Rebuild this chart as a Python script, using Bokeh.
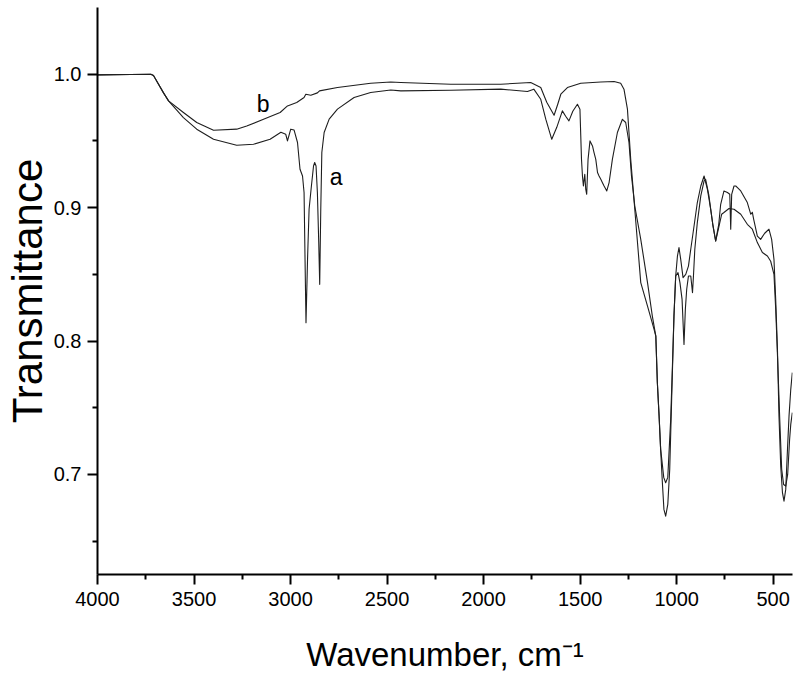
from bokeh.plotting import figure
from bokeh.models import Range1d, FixedTicker, NumeralTickFormatter, Label
from bokeh.embed import file_html
from bokeh.resources import INLINE

# ---- data (wavenumber cm-1, transmittance) ----
wn_a = [4000, 3830, 3724, 3710, 3658, 3632, 3555, 3486, 3399, 3279, 3192, 3106, 3050, 3025, 3016,
        2999, 2982, 2964, 2951, 2938, 2930, 2925, 2920, 2912, 2904, 2892, 2881, 2875, 2868, 2861,
        2854, 2849, 2843.5, 2838, 2826, 2800, 2757, 2671, 2585, 2481, 2429, 2170, 1911, 1773, 1740,
        1704, 1678, 1647, 1621, 1592, 1575, 1558, 1538, 1514, 1501, 1493, 1488, 1483, 1476, 1471,
        1466, 1459, 1449, 1436, 1428, 1419, 1410, 1402, 1393, 1385, 1376, 1362, 1350, 1333, 1307,
        1281, 1264, 1247, 1234, 1217, 1186, 1151, 1126, 1108, 1100, 1091, 1083, 1074, 1066, 1057,
        1046, 1036, 1026, 1014, 1005, 996, 988, 979, 967, 953, 939, 927, 910, 893, 875, 858,
        841, 832, 824, 813, 798, 782, 772, 755, 737, 725, 720, 715, 703, 694, 685, 668, 634,
        616, 608, 601, 582, 565, 544, 522, 508, 496, 487, 478, 470, 461, 452, 444, 435, 426,
        418, 409, 401]
tr_a = [0.9995, 0.9998, 1.0, 0.999, 0.986, 0.98, 0.9675, 0.9588, 0.9512, 0.9468, 0.9475, 0.9512, 0.9565, 0.955, 0.950,
        0.9588, 0.9582, 0.9488, 0.9288, 0.9237, 0.9113, 0.8613, 0.8138, 0.8613, 0.8988, 0.9162, 0.9312, 0.9338, 0.9312, 0.9113,
        0.8738, 0.8425, 0.8988, 0.9413, 0.9563, 0.9663, 0.9738, 0.9825, 0.9863, 0.9882, 0.9875, 0.988, 0.9888, 0.987, 0.9888,
        0.9812, 0.9663, 0.9512, 0.9602, 0.9725, 0.9685, 0.965, 0.9722, 0.9775, 0.9738, 0.9362, 0.9237, 0.9162, 0.925, 0.9138,
        0.910, 0.9362, 0.950, 0.9462, 0.9413, 0.9362, 0.9263, 0.9237, 0.9212, 0.9188, 0.9162, 0.9125, 0.9188, 0.9362, 0.9563,
        0.9662, 0.9638, 0.9488, 0.9237, 0.9012, 0.8762, 0.8438, 0.8187, 0.8037, 0.7688, 0.7437, 0.7188, 0.6938, 0.6738, 0.6687,
        0.6775, 0.7038, 0.7562, 0.8187, 0.8487, 0.8637, 0.870, 0.8612, 0.8475, 0.850, 0.8562, 0.8688, 0.8862, 0.9038, 0.9162, 0.9237,
        0.9138, 0.9062, 0.8988, 0.8875, 0.875, 0.8875, 0.9025, 0.9125, 0.9113, 0.910, 0.8838, 0.910, 0.9162, 0.9162, 0.915, 0.9125, 0.9038,
        0.895, 0.8965, 0.8912, 0.8787, 0.8762, 0.8808, 0.8838, 0.8762, 0.8612, 0.8312, 0.7938, 0.7437, 0.7062, 0.6863, 0.680, 0.6888, 0.7188,
        0.7437, 0.7638, 0.7763]

wn_b = [4000, 3830, 3724, 3710, 3658, 3632, 3555, 3486, 3399, 3279, 3227, 3140, 3054, 3016, 2968,
        2930, 2921, 2895, 2861, 2850, 2757, 2585, 2481, 2429, 2170, 1911, 1756, 1704, 1673, 1635,
        1616, 1600, 1566, 1497, 1393, 1324, 1290, 1273, 1255, 1247, 1238, 1224, 1217, 1186, 1151,
        1117, 1108, 1100, 1091, 1083, 1077, 1067, 1057, 1046, 1031, 1022, 1014, 1005, 993, 983,
        972, 962, 955, 948, 939, 927, 918, 913, 906, 893, 875, 858, 850, 834, 813, 798, 782,
        767, 755, 729, 703, 668, 634, 608, 582, 556, 530, 513, 496, 487, 477, 466, 456, 446,
        435, 425, 415, 409, 401]
tr_b = [0.9995, 0.9998, 1.0, 0.999, 0.986, 0.98, 0.9713, 0.9638, 0.958, 0.9588, 0.9612, 0.9662, 0.9713, 0.9762, 0.9788,
        0.9825, 0.985, 0.9842, 0.986, 0.9875, 0.990, 0.9932, 0.9942, 0.9938, 0.9925, 0.9925, 0.9938, 0.990, 0.979, 0.9692,
        0.9775, 0.985, 0.990, 0.9932, 0.9942, 0.9945, 0.9932, 0.9888, 0.9738, 0.9563, 0.9362, 0.9113, 0.8988, 0.8438, 0.8262,
        0.8088, 0.8037, 0.7688, 0.7437, 0.7188, 0.7112, 0.6978, 0.6938, 0.6978, 0.7412, 0.7812, 0.8187, 0.8487, 0.8513, 0.8438,
        0.8312, 0.7975, 0.8238, 0.8388, 0.8487, 0.8487, 0.8363, 0.8487, 0.8688, 0.8888, 0.9088, 0.920, 0.9212, 0.910, 0.8875, 0.8748, 0.8852,
        0.895, 0.8963, 0.8993, 0.8988, 0.895, 0.8875, 0.8838, 0.8738, 0.8663, 0.8637, 0.8598, 0.850, 0.8238, 0.7862, 0.7412, 0.7038, 0.6925,
        0.6913, 0.700, 0.7262, 0.7375, 0.7463]

x_major = [4000, 3500, 3000, 2500, 2000, 1500, 1000, 500]
x_minor = [3750, 3250, 2750, 2250, 1750, 1250, 750]
y_major = [0.7, 0.8, 0.9, 1.0]
y_minor = [0.65, 0.75, 0.85, 0.95]

FONT = "Liberation Sans"

p = figure(width=800, height=679, output_backend="svg", toolbar_location=None,
           x_range=Range1d(4000, 400), y_range=Range1d(0.625, 1.05),
           min_border_left=97, min_border_right=8, min_border_top=7, min_border_bottom=105)
p.outline_line_color = None
p.grid.visible = False
p.background_fill_color = "white"
p.border_fill_color = "white"

lw = 1.1
col = "#1e1e1e"
p.line(wn_a, tr_a, line_color=col, line_width=lw, line_join="round")
p.line(wn_b, tr_b, line_color=col, line_width=lw, line_join="round")

for ax in (p.xaxis[0], p.yaxis[0]):
    ax.axis_line_width = 2
    ax.axis_line_color = "black"
    ax.major_tick_line_width = 2
    ax.minor_tick_line_width = 2
    ax.major_tick_line_color = "black"
    ax.minor_tick_line_color = "black"
    ax.major_tick_out = 10
    ax.major_tick_in = 0
    ax.minor_tick_out = 5
    ax.minor_tick_in = 0
    ax.major_label_text_font = FONT
    ax.major_label_text_font_size = "20px"
    ax.major_label_text_color = "black"
    ax.major_label_standoff = 7
    ax.axis_label_text_font = FONT
    ax.axis_label_text_font_style = "normal"
    ax.axis_label_text_color = "black"

p.yaxis.major_label_standoff = 6
p.xaxis.ticker = FixedTicker(ticks=x_major, minor_ticks=x_minor)
p.yaxis.ticker = FixedTicker(ticks=y_major, minor_ticks=y_minor)
p.xaxis.formatter = NumeralTickFormatter(format="0")
p.yaxis.formatter = NumeralTickFormatter(format="0.0")

p.xaxis.axis_label = "Wavenumber, cm\u207b\u00b9"
p.xaxis.axis_label_text_font_size = "33px"
p.xaxis.axis_label_standoff = 27
p.yaxis.axis_label = "Transmittance"
p.yaxis.axis_label_text_font_size = "42px"
p.yaxis.axis_label_standoff = 0

lab_b = Label(x=3175, y=0.978, text="b", text_font=FONT, text_font_size="23px",
              text_color="black", text_baseline="alphabetic", text_align="left")
lab_a = Label(x=2797, y=0.9228, text="a", text_font=FONT, text_font_size="23px",
              text_color="black", text_baseline="alphabetic", text_align="left")
p.add_layout(lab_b)
p.add_layout(lab_a)

open("out.html", "w").write(file_html(p, INLINE))
